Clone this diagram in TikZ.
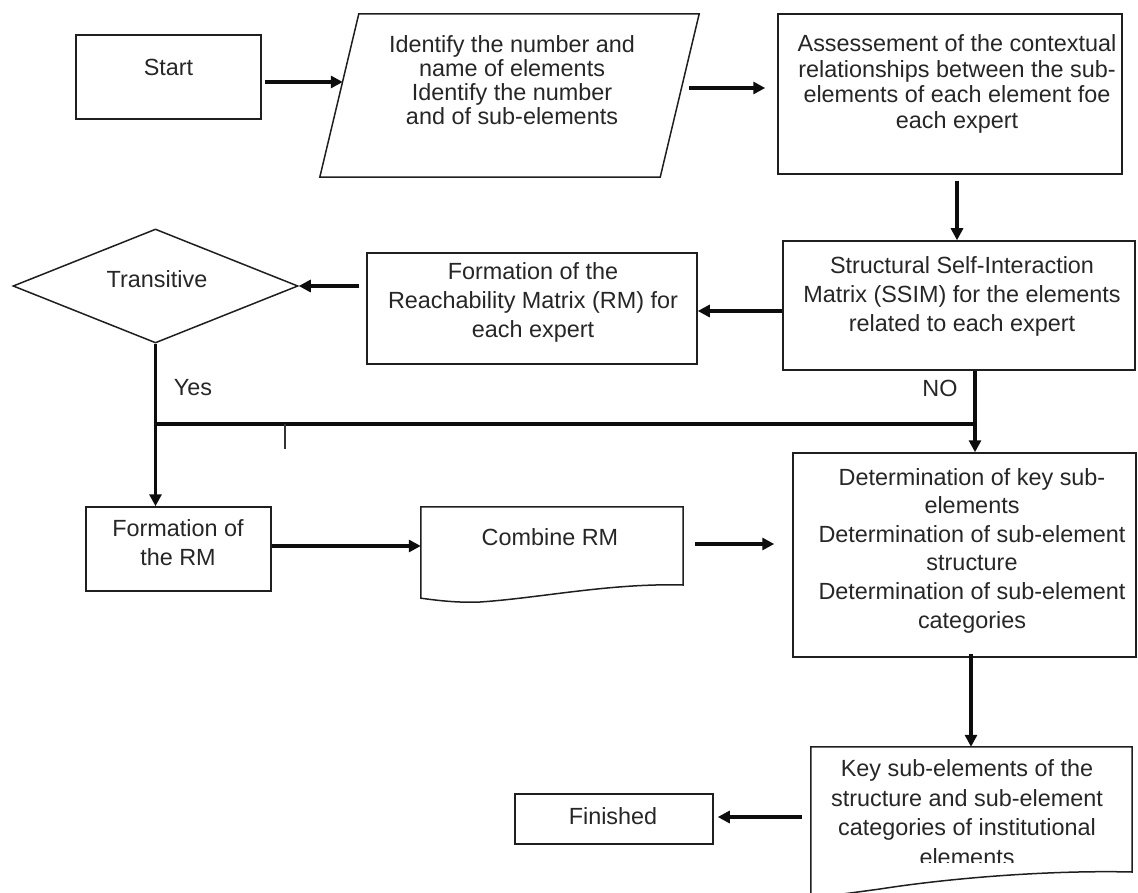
\documentclass[tikz,border=0pt]{standalone}
\usepackage{fontspec}
\setmainfont{Liberation Sans}
\usetikzlibrary{arrows.meta,shapes.geometric,calc}
\begin{document}
\begin{tikzpicture}[x=1pt,y=-1pt,
  box/.style={draw=black!88, line width=1.5pt, rectangle, inner sep=0pt},
  ghost/.style={rectangle, inner sep=0pt},
  shp/.style={draw=black!88, line width=1.5pt, line join=miter},
  txt/.style={font=\fontsize{23.4}{28}\selectfont, align=center, text=black!85, inner sep=0pt},
  arr/.style={line width=3.6pt, black!95, -{Triangle[length=12pt,width=12pt]}},
  ln/.style={line width=3.6pt, black!95},
  tick/.style={line width=1.4pt, black!80}
]
\useasboundingbox (0,0) rectangle (1138,893);
\clip (0,0) rectangle (1138,893);

% Start
\node[box, minimum width=185pt, minimum height=84pt] (start) at (168.5,77) {};
\node[txt] (startT) at (168.5,67) {Start};

% Parallelogram
\node[ghost, minimum width=379pt, minimum height=163pt] (para) at (509.5,95.5) {};
\draw[shp] (para.south west) -- ($(para.north west)+(39,0)$) -- (para.north east)
  -- ($(para.south east)+(-39,0)$) -- cycle;
\node[txt, font=\fontsize{23.4}{24}\selectfont] (paraT) at (512,80) {Identify the number and\\name of elements\\Identify the number\\and of sub-elements};

% Assessment
\node[box, minimum width=344pt, minimum height=160pt] (assess) at (950,94) {};
\node[txt, font=\fontsize{23.4}{25.7}\selectfont] (assessT) at (957,84) {Assessement of the contextual\\relationships between the sub-\\elements of each element foe\\each expert};

% SSIM
\node[box, minimum width=352pt, minimum height=129pt] (ssim) at (959,305.5) {};
\node[txt, font=\fontsize{23.4}{29}\selectfont] (ssimT) at (962,296) {Structural Self-Interaction\\Matrix (SSIM) for the elements\\related to each expert};

% Formation of the Reachability Matrix
\node[box, minimum width=330pt, minimum height=111pt] (fm) at (532,308.5) {};
\node[txt, font=\fontsize{23.4}{29}\selectfont] (fmT) at (533,302) {Formation of the\\Reachability Matrix (RM) for\\each expert};

% Diamond
\node[diamond, draw=black!88, line width=1.5pt, inner sep=0pt,
      minimum width=285pt, minimum height=114pt] (diam) at (155.5,286) {};
\node[txt] (diamT) at (157,279) {Transitive};

% Formation of the RM
\node[box, minimum width=185pt, minimum height=84pt] (frm) at (178.5,549) {};
\node[txt, font=\fontsize{23.4}{29}\selectfont] (frmT) at (178,542.5) {Formation of\\the RM};

% Combine RM (document)
\node[ghost, minimum width=262pt, minimum height=91pt] (comb) at (552,552.5) {};
\draw[shp] (comb.north west) -- (comb.north east) -- (683,585)
  .. controls (610,583) and (540,598) .. (480,602)
  .. controls (455,603) and (435,600) .. (comb.south west) -- cycle;
\node[txt] (combT) at (550,537) {Combine RM};

% Determination
\node[box, minimum width=343pt, minimum height=204pt] (det) at (964.5,555) {};
\node[txt, font=\fontsize{23.4}{28.6}\selectfont] (detT) at (972,550.5) {Determination of key sub-\\elements\\Determination of sub-element\\structure\\Determination of sub-element\\categories};

% Key sub-elements (document)
\node[ghost, minimum width=321pt, minimum height=150pt] (key) at (971.5,822) {};
\draw[shp] (key.north west) -- (key.north east) -- (1132,872)
  .. controls (1050,870) and (950,878) .. (880,889)
  .. controls (850,893) and (830,896) .. (key.south west) -- cycle;
\begin{scope}
\clip (800,740) rectangle (1140,862);
\node[txt, font=\fontsize{23.4}{29.5}\selectfont] (keyT) at (967,812.5) {Key sub-elements of the\\structure and sub-element\\categories of institutional\\elements};
\end{scope}

% Finished
\node[box, minimum width=198pt, minimum height=50pt] (fin) at (614,819) {};
\node[txt] (finT) at (613,816) {Finished};

% Connectors
\coordinate (s1) at ($(start.east)+(3,5)$);
\draw[arr] (s1) -- ($(s1 -| para.west)+(23,0)$);

\coordinate (p1) at ($(para.east)+(-10,-7.5)$);
\draw[arr] (p1) -- ($(p1 -| assess.west)+(-12,0)$);

\coordinate (a3) at ($(assess.south)+(7,6)$);
\draw[arr] (a3) -- (a3 |- ssim.north);

\coordinate (s4) at ($(ssim.west)+(0,5.5)$);
\draw[arr] (s4) -- (s4 -| fm.east);

\coordinate (f5) at ($(fm.west |- diam.east)+(-7,0)$);
\draw[arr] (f5) -- (diam.east);

\draw[arr] (diam.south) -- (diam.south |- frm.north);

\coordinate (jl) at ($(diam.south)+(0,80)$);
\coordinate (sb) at ($(ssim.south)+(16,0)$);
\draw[ln] (jl) -- (sb |- jl);
\draw[arr] (sb) -- (sb |- det.north);
\draw[tick] ($(jl)+(129.5,0)$) -- ++(0,25);

\coordinate (r8) at ($(frm.east)+(0,-3)$);
\draw[arr] (r8) -- (r8 -| comb.west);

\coordinate (c9) at ($(comb.east)+(12,-8.5)$);
\draw[arr] (c9) -- ($(c9 -| det.west)+(-18,0)$);

\coordinate (d10) at ($(det.south)+(6.5,-4)$);
\draw[arr] (d10) -- (d10 |- key.north);

\coordinate (k11) at ($(key.west |- fin.east)+(-9,-2)$);
\draw[arr] (k11) -- ($(k11 -| fin.east)+(4,0)$);

% Labels
\node[txt] (yesT) at (193,388) {Yes};
\node[txt] (noT) at (940,388) {NO};
\end{tikzpicture}
\end{document}
